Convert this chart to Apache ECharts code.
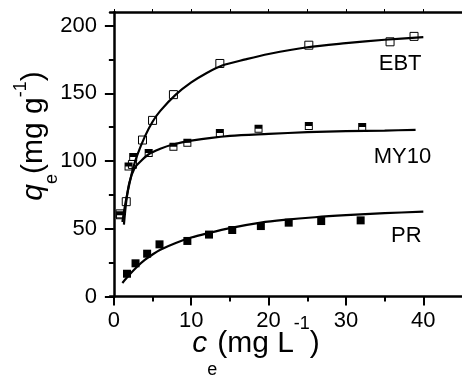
<!DOCTYPE html>
<html>
<head>
<meta charset="utf-8">
<script src="https://cdn.jsdelivr.net/npm/echarts@6/dist/echarts.min.js"></script>
<style>
  html, body { margin: 0; padding: 0; background: #fff; }
  #chart { width: 462px; height: 378px; }
</style>
</head>
<body>
<div id="chart"></div>
<script>
// measured points
const ebtCe = [0.8, 1.6, 2.4, 3.7, 5.0, 7.7, 13.7, 25.2, 35.7, 38.8]
const ebtQe = [61, 70, 97.5, 115.5, 130, 149, 172, 185.5, 188, 192]
const my10Ce = [0.8, 1.9, 2.5, 4.5, 7.7, 9.5, 13.7, 18.7, 25.2, 32.1]
const my10Qe = [60, 96, 103, 106, 110.5, 113.5, 120.7, 123.8, 125.8, 125.1]
const prCe = [1.7, 2.8, 4.3, 5.9, 9.5, 12.3, 15.3, 19.0, 22.6, 26.8, 31.9]
const prQe = [16.8, 24.5, 31.6, 38.5, 41, 45.7, 49.1, 52, 54.5, 55.7, 56.2]

// fitted curves
const ebtFitX = [1.1, 1.5, 2, 2.5, 3, 4, 5, 6, 8, 10, 12, 14, 17, 20, 25, 30, 35, 40]
const ebtFitY = [55, 69, 83, 95, 104, 118, 129, 137, 149, 158, 165, 170.5, 175, 179, 184, 187, 189.5, 191.5]
const my10FitX = [1.3, 1.6, 2, 2.7, 3.5, 4.5, 6, 7.5, 10, 15, 20, 25, 30, 35, 39]
const my10FitY = [53, 70, 84, 95, 100, 105, 109, 112, 115, 118.5, 120, 121.3, 122, 122.5, 123]
const prFitX = [1.1, 2, 3, 4, 5, 6, 8, 10, 12, 15, 19, 22, 26, 30, 35, 40]
const prFitY = [10, 16, 22, 27, 31, 34.5, 39.5, 43.5, 46.5, 50.5, 54.5, 56.5, 58.5, 60, 61.5, 62.6]

// curve labels
const curveNames = ['EBT', 'MY10', 'PR']
const labelCe = [37, 37.3, 37.8]
const labelQe = [171.6, 102.9, 44.6]

// ticks
const xMajor = [0, 10, 20, 30, 40]
const xMinor = [5, 15, 25, 35]
const xTop = [0, 5, 10, 15, 20, 25, 30, 35, 40]
const yMajor = [0, 50, 100, 150, 200]
const yMinor = [25, 75, 125, 175]

const font = 'Liberation Sans, Arial, sans-serif'
const zip = (xs, ys) => xs.map((x, i) => [x, ys[i]])

const chart = echarts.init(document.getElementById('chart'), null, { renderer: 'canvas' })

const lineSeries = (xs, ys) => ({
  type: 'line',
  data: zip(xs, ys),
  smooth: 0.3,
  showSymbol: false,
  lineStyle: { color: '#000', width: 2.2 },
  z: 2
})

// top half filled square
const halfSquare = 'path://M0,0H10V10H0Z M1.2,5V8.8H8.8V5Z'

// rich styles for the axis titles, sub/sup done with padding
const titleRich = (subPad, supPad) => ({
  i: { fontSize: 30, fontStyle: 'italic', fontFamily: font, fill: '#000' },
  n: { fontSize: 30, fontFamily: font, fill: '#000' },
  sub: { fontSize: 18, fontFamily: font, fill: '#000', padding: [subPad, 0, 0, 0] },
  sup: { fontSize: 18, fontFamily: font, fill: '#000', padding: [0, 0, supPad, 0] }
})

let option = {
  animation: false,
  backgroundColor: '#fff',
  grid: { left: 110, top: 12, width: 355, height: 284.5 },
  xAxis: [
    {
      type: 'value', min: -0.5, max: 45, position: 'bottom',
      axisLine: { show: true, lineStyle: { color: '#000', width: 2.5 } },
      axisTick: { show: true, customValues: xMajor, length: 9, lineStyle: { color: '#000', width: 2 } },
      axisLabel: { customValues: xMajor, margin: 13, color: '#000', fontSize: 22, fontFamily: font },
      splitLine: { show: false }
    },
    {
      type: 'value', min: -0.5, max: 45, position: 'bottom',
      axisLine: { show: false },
      axisTick: { show: true, customValues: xMinor, length: 5, lineStyle: { color: '#000', width: 2 } },
      axisLabel: { show: false },
      splitLine: { show: false }
    },
    {
      type: 'value', min: -0.5, max: 45, position: 'top',
      axisLine: { show: true, lineStyle: { color: '#000', width: 2.5 } },
      axisTick: { show: true, customValues: xTop, length: 3, lineStyle: { color: '#000', width: 1 } },
      axisLabel: { show: false },
      splitLine: { show: false }
    }
  ],
  yAxis: [
    {
      type: 'value', min: 0, max: 210, position: 'left',
      axisLine: { show: true, lineStyle: { color: '#000', width: 2.5 } },
      axisTick: { show: true, customValues: yMajor, length: 9, lineStyle: { color: '#000', width: 2 } },
      axisLabel: { customValues: yMajor, margin: 13, color: '#000', fontSize: 22, fontFamily: font },
      splitLine: { show: false }
    },
    {
      type: 'value', min: 0, max: 210, position: 'left',
      axisLine: { show: false },
      axisTick: { show: true, customValues: yMinor, length: 5, lineStyle: { color: '#000', width: 2 } },
      axisLabel: { show: false },
      splitLine: { show: false }
    }
  ],
  series: [
    lineSeries(ebtFitX, ebtFitY),
    lineSeries(my10FitX, my10FitY),
    lineSeries(prFitX, prFitY),
    {
      type: 'scatter', data: zip(ebtCe, ebtQe), symbol: 'rect', symbolSize: 8,
      itemStyle: { color: 'rgba(255,255,255,0)', borderColor: '#000', borderWidth: 1, opacity: 1 }, z: 3
    },
    {
      type: 'scatter', data: zip(my10Ce, my10Qe), symbol: halfSquare, symbolSize: 8,
      itemStyle: { color: '#000', opacity: 1 }, z: 4
    },
    {
      type: 'scatter', data: zip(prCe, prQe), symbol: 'rect', symbolSize: 8,
      itemStyle: { color: '#000', opacity: 1 }, z: 3
    },
    {
      type: 'scatter', symbolSize: 0, silent: true,
      itemStyle: { opacity: 1 },
      data: curveNames.map((n, i) => [labelCe[i], labelQe[i], n]),
      label: {
        show: true, position: 'inside', color: '#000', opacity: 1, fontSize: 22, fontFamily: font,
        formatter: p => p.value[2]
      }
    }
  ],
  graphic: [
    {
      type: 'text', x: 256, y: 344,
      style: {
        text: '{i|c}{sub|e}{n|(mg L}{sup|-1}{n|)}',
        align: 'center', verticalAlign: 'middle',
        rich: titleRich(52, 40)
      }
    },
    {
      type: 'text', x: 34, y: 136, rotation: Math.PI / 2,
      style: {
        text: '{i|q}{sub|e}{n|(mg g}{sup|-1}{n|)}',
        align: 'center', verticalAlign: 'middle',
        rich: titleRich(36, 26)
      }
    }
  ]
}

chart.setOption(option)
</script>
</body>
</html>
